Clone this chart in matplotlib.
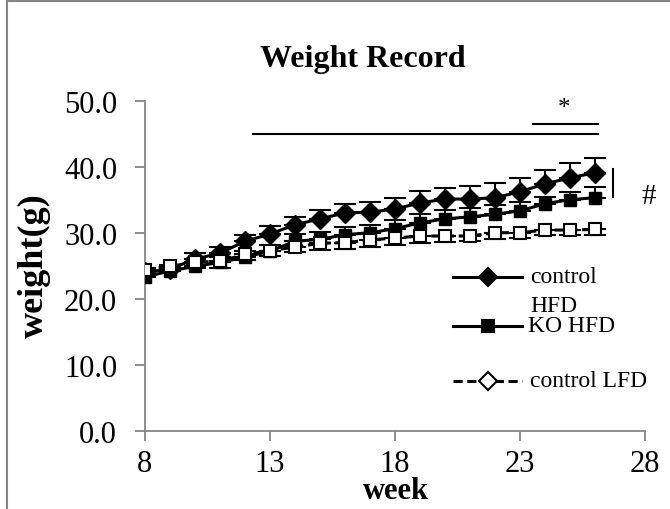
import matplotlib
matplotlib.use("Agg")
import matplotlib.pyplot as plt
from matplotlib.lines import Line2D

# weekly body weight (g), mean and error
weeks = list(range(8, 27))
ctrl_hfd = [24.0, 24.5, 26.0, 26.9, 28.7, 29.8, 31.2, 32.1, 33.0, 33.1, 33.6, 34.5,
            35.1, 35.1, 35.3, 36.2, 37.4, 38.3, 39.1]
ctrl_hfd_err = [0.6, 0.6, 0.9, 1.0, 1.0, 1.2, 1.2, 1.3, 1.3, 1.6, 1.7, 1.8,
                1.7, 2.0, 2.2, 2.1, 2.1, 2.2, 2.2]
ko_hfd = [23.3, 24.2, 24.9, 25.5, 26.3, 27.2, 28.7, 29.0, 29.7, 30.0, 30.6, 31.5,
          32.1, 32.4, 32.8, 33.3, 34.4, 35.0, 35.3]
ko_hfd_err = [0.8, 0.6, 0.7, 0.8, 0.9, 1.0, 1.1, 1.1, 1.2, 1.2, 1.3, 1.3,
              1.3, 1.3, 1.4, 1.3, 1.0, 1.2, 1.6]
ctrl_lfd = [24.4, 24.9, 25.5, 25.7, 26.7, 27.3, 27.8, 28.4, 28.5, 28.9, 29.2, 29.5,
            29.5, 29.5, 30.0, 30.0, 30.4, 30.4, 30.5]
ctrl_lfd_err = [0.7, 0.7, 0.8, 1.0, 0.8, 0.8, 0.8, 1.0, 1.0, 1.0, 1.0, 1.0,
                0.9, 0.8, 1.0, 0.8, 0.8, 0.8, 0.8]

xticks = [8, 13, 18, 23, 28]
yticks = [0, 10, 20, 30, 40, 50]

W, H = 670, 510
serif = "Liberation Serif"
gray = "#868686"

fig = plt.figure(figsize=(W / 100, H / 100), dpi=100)
ax = fig.add_axes([145 / W, 1 - 431.7 / H, 500 / W, 330 / H])


def px(x, y):
    return x / W, 1 - y / H


# HFD groups get upper bars, LFD lower bars (as in the original sheet)
zeros = [0] * len(weeks)
common = dict(color="black", lw=2.2, elinewidth=1.5, capsize=8, capthick=1.5)
ax.errorbar(weeks, ctrl_hfd, yerr=[zeros, ctrl_hfd_err], marker="D", ms=10,
            mfc="black", mec="black", zorder=3, **common)
ax.errorbar(weeks, ko_hfd, yerr=[zeros, ko_hfd_err], marker="s", ms=9,
            mfc="black", mec="black", zorder=4, **common)
ax.errorbar(weeks, ctrl_lfd, yerr=[ctrl_lfd_err, zeros], marker="s", ms=9,
            mfc="white", mec="black", mew=1.5, ls=(0, (3, 1.5)), zorder=5, **common)

ax.set_xlim(8, 28)
ax.set_ylim(0, 50)
ax.set_xticks(xticks)
ax.set_yticks(yticks)
ax.set_yticklabels([f"{v:.1f}" for v in yticks])
for s in ["top", "right"]:
    ax.spines[s].set_visible(False)
for s in ["left", "bottom"]:
    ax.spines[s].set_color(gray)
    ax.spines[s].set_linewidth(1.3)
ax.tick_params(direction="out", length=7, width=1.3, color=gray,
               labelsize=22, pad=6)
ax.tick_params(axis="y", pad=13)
for lab in ax.get_xticklabels() + ax.get_yticklabels():
    lab.set_fontfamily(serif)

# significance marks
ax.plot([12.3, 26.1], [45, 45], color="black", lw=1.5, clip_on=False)
ax.plot([23.5, 26.1], [46.4, 46.4], color="black", lw=1.5, clip_on=False)
ax.text(24.75, 47.2, "*", ha="center", va="bottom", fontsize=18, family=serif,
        clip_on=False)
ax.plot([26.7, 26.7], [35.4, 39.6], color="black", lw=1.5, clip_on=False)
ax.text(28.15, 35.5, "#", ha="center", va="center", fontsize=21, family=serif,
        clip_on=False)

# titles
fig.text(*px(363, 67), "Weight Record", ha="center", va="baseline",
         fontsize=23, fontweight="bold", family=serif)
fig.text(*px(396, 492), "week", ha="center", va="center",
         fontsize=22, fontweight="bold", family=serif)
fig.text(*px(34, 266), "weight(g)", ha="center", va="center", rotation=90,
         fontsize=26, fontweight="bold", family=serif)

# legend, drawn by hand to keep the Excel layout
def key(y, marker, mfc, ls):
    x0, y0 = px(453, y)
    x1, _ = px(522, y)
    xm, _ = px(488, y)
    fig.add_artist(Line2D([x0, x1], [y0, y0], color="black", lw=2.2, ls=ls))
    fig.add_artist(Line2D([xm], [y0], marker=marker, ms=9, mfc=mfc,
                          mec="black", mew=1.5, ls="none"))


key(278, "D", "black", "-")
key(327, "s", "black", "-")
key(382, "D", "white", (0, (3, 1.5)))
fig.text(*px(530, 278), "control", va="center", fontsize=17, family=serif)
fig.text(*px(530, 307), "HFD", va="center", fontsize=17, family=serif)
fig.text(*px(528, 327), "KO HFD", va="center", fontsize=17, family=serif)
fig.text(*px(530, 382), "control LFD", va="center", fontsize=17, family=serif)

# chart border (cut off at right and bottom)
fig.add_artist(Line2D([7 / W, 7 / W], [0, 1 - 2 / H], color=gray, lw=1.5))
fig.add_artist(Line2D([7 / W, 1], [1 - 2 / H, 1 - 2 / H], color=gray, lw=1.5))

fig.savefig("out.png", dpi=100)
